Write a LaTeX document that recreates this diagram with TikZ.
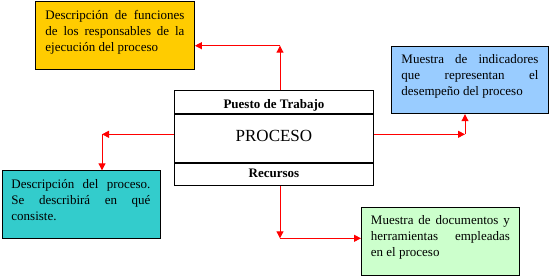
\documentclass[tikz,border=0pt]{standalone}
\usepackage{fontspec}
\setmainfont{Liberation Serif}
\usetikzlibrary{arrows.meta}
\definecolor{orangebox}{HTML}{FFCC00}
\definecolor{bluebox}{HTML}{99CCFF}
\definecolor{tealbox}{HTML}{33CCCC}
\definecolor{greenbox}{HTML}{CCFFCC}
\definecolor{arrred}{HTML}{FF0000}
\newcommand{\jline}[1]{\makebox[\linewidth][s]{#1}}
\begin{document}
\begin{tikzpicture}[x=1pt,y=-1pt,
  box/.style={draw=black, line width=0.9pt, inner ysep=0pt, inner xsep=10pt, anchor=north west,
    font=\fontsize{13}{16}\selectfont},
  band/.style={draw=black, line width=0.9pt, inner sep=0pt, minimum width=199pt, anchor=north west},
  arr/.style={draw=arrred, line width=1pt, -{Triangle[width=7pt,length=7pt]}}
]
\useasboundingbox (0,0) rectangle (550,277);
% side boxes
\node[box, fill=orangebox, text height=17.7pt, text depth=50.3pt] (orange) at (35,1.3)
  {\parbox[t]{139pt}{\jline{Descripción de funciones}\\\jline{de los responsables de la}\\ejecución del proceso}};
\node[box, fill=bluebox, text height=17.6pt, text depth=50pt] (blue) at (391,45.7)
  {\parbox[t]{137pt}{\jline{Muestra de indicadores}\\\jline{que representan el}\\desempeño del proceso}};
\node[box, fill=tealbox, text height=18pt, text depth=50pt, inner xsep=9.5pt] (teal) at (1.5,170.3)
  {\parbox[t]{139pt}{\jline{Descripción del proceso.}\\\jline{Se describirá en qué}\\consiste.}};
\node[box, fill=greenbox, text height=16.7pt, text depth=51.3pt, inner xsep=9.5pt] (green) at (361,207.3)
  {\parbox[t]{139pt}{\jline{Muestra de documentos y}\\\jline{herramientas empleadas}\\en el proceso}};
% central box
\node[band, text height=17.4pt, text depth=5.6pt, font=\fontsize{13}{16}\selectfont\bfseries] (puesto) at (174,90.3) {Puesto de Trabajo};
\node[band, text height=26.7pt, text depth=21.3pt, font=\fontsize{17}{20}\selectfont] (procmid) at (puesto.south west) {PROCESO};
\node[band, text height=14.4pt, text depth=7.6pt, font=\fontsize{13}{16}\selectfont\bfseries] (recursos) at (procmid.south west) {Recursos};
% connectors
\coordinate (t1) at (280,45.7);
\coordinate (r1) at (465,134.3);
\coordinate (l1) at (102,134.3);
\coordinate (b1) at (280,238.3);
\draw[arr] (t1 |- puesto.north) -- (t1);
\draw[arr] (t1) -- (orange.east |- t1);
\draw[arr] (procmid.east |- r1) -- (r1);
\draw[arr] (r1) -- (r1 |- blue.south);
\draw[arr] (procmid.west |- l1) -- (l1);
\draw[arr] (l1) -- (l1 |- teal.north);
\draw[arr] (b1 |- recursos.south) -- (b1);
\draw[arr] (b1) -- (green.west |- b1);
\end{tikzpicture}
\end{document}
